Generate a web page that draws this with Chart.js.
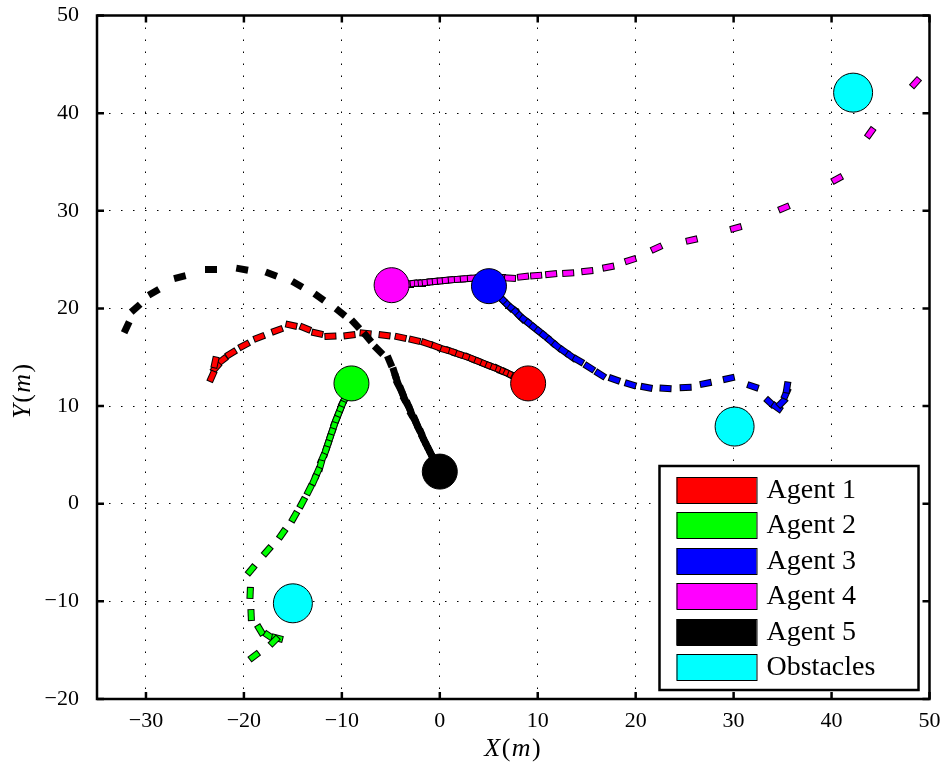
<!DOCTYPE html>
<html>
<head>
<meta charset="utf-8">
<title>Agent trajectories</title>
<script src="https://cdn.jsdelivr.net/npm/chart.js@4.4.1/dist/chart.umd.min.js"></script>
<style>
  html, body { margin: 0; padding: 0; background: #fff; overflow: hidden; }
  /* the layout keeps a fixed gap above and right of the plot; pull the canvas up by it */
  canvas { display: block; margin-top: -5px; }
</style>
</head>
<body>
<canvas id="trajChart" width="950" height="770"></canvas>
<script>
// axis ticks
const xTicks = [-30, -20, -10, 0, 10, 20, 30, 40, 50];
const yTicks = [-20, -10, 0, 10, 20, 30, 40, 50];

// agents and obstacles
const agentNames = ['Agent 1', 'Agent 2', 'Agent 3', 'Agent 4', 'Agent 5'];
const agentColors = ['#ff0000', '#00ff00', '#0000ff', '#ff00ff', '#000000'];
const obstacleColor = '#00ffff';
const agentStart = [[9.02, 12.32], [-9.02, 12.32], [5.02, 22.28], [-4.92, 22.38], [0, 3.29]];
const obstacles = [[42.2, 42.1], [30.1, 7.9], [-15.0, -10.2]];

// sampled positions along each trajectory
const path1 = [[9.02,12.32],[8.71,12.47],[8.40,12.63],[8.09,12.78],[7.79,12.94],[7.48,13.09],[7.17,13.24],
  [6.86,13.40],[6.45,13.55],[6.05,13.76],[5.64,13.91],[5.23,14.07],[4.71,14.27],[4.20,14.48],[3.69,14.68],
  [3.07,14.94],[2.46,15.14],[1.84,15.35],[1.13,15.61],[0.41,15.81],[-0.41,16.12],[-1.33,16.43],[-2.56,16.74],
  [-4.00,17.04],[-5.64,17.25],[-7.58,17.45],[-9.22,17.25],[-11.17,17.15],[-12.50,17.45],[-13.73,17.97],
  [-15.16,18.28],[-16.60,17.76],[-18.44,17.04],[-19.98,16.22],[-21.31,15.40],[-22.23,14.68],[-22.85,13.96],
  [-23.26,13.04],[-22.95,14.48]];
const path2 = [[-9.02,12.32],[-9.22,11.81],[-9.43,11.29],[-9.63,10.88],[-9.84,10.47],[-10.04,9.96],[-10.25,9.45],
  [-10.45,8.93],[-10.66,8.42],[-10.86,7.80],[-11.07,7.19],[-11.27,6.57],[-11.48,5.95],[-11.68,5.34],[-11.99,4.62],
  [-12.19,3.90],[-12.50,3.18],[-12.81,2.46],[-13.32,1.44],[-14.04,0.10],[-14.86,-1.33],[-16.09,-3.08],
  [-17.62,-4.83],[-19.26,-6.78],[-19.36,-9.14],[-19.26,-11.40],[-18.34,-12.94],[-17.42,-13.55],[-16.60,-13.76],
  [-16.91,-14.07],[-18.95,-15.61]];
const path3 = [[5.02,22.28],[5.43,21.87],[5.84,21.46],[6.25,21.05],[6.66,20.64],[7.07,20.23],[7.48,19.92],
  [7.89,19.51],[8.30,19.10],[8.71,18.79],[9.22,18.38],[9.73,17.97],[10.25,17.56],[10.76,17.15],[11.37,16.63],
  [11.99,16.12],[12.70,15.61],[13.42,15.09],[14.14,14.68],[15.27,13.96],[16.39,13.24],[17.83,12.73],
  [19.47,12.22],[21.11,11.91],[23.05,11.81],[25.10,11.91],[27.15,12.32],[29.51,12.83],[31.97,12.01],
  [33.71,10.37],[34.43,9.86],[34.94,10.37],[35.35,11.29],[35.45,11.91]];
const path4 = [[-4.92,22.38],[-4.51,22.38],[-4.10,22.43],[-3.69,22.48],[-3.28,22.48],[-2.87,22.54],[-2.46,22.59],
  [-2.05,22.59],[-1.64,22.64],[-1.23,22.69],[-0.72,22.74],[-0.20,22.79],[0.31,22.84],[0.82,22.90],[1.43,22.95],
  [2.05,23.00],[2.66,23.05],[3.38,23.10],[4.20,23.15],[5.12,23.15],[6.15,23.15],[7.17,23.10],[8.50,23.25],
  [9.84,23.36],[11.37,23.51],[13.11,23.61],[15.06,23.82],[17.21,24.23],[19.47,24.95],[22.13,26.18],
  [25.72,27.00],[30.23,28.23],[35.14,30.29],[40.57,33.26],[43.95,37.99],[48.57,43.12]];
const path5 = [[0,3.29],[-0.20,3.70],[-0.41,4.11],[-0.61,4.52],[-0.82,4.93],[-1.02,5.34],[-1.23,5.75],
  [-1.43,6.16],[-1.64,6.57],[-1.84,7.08],[-2.05,7.49],[-2.25,7.91],[-2.46,8.42],[-2.77,8.93],[-2.97,9.45],
  [-3.18,9.96],[-3.48,10.47],[-3.69,10.99],[-3.89,11.50],[-4.20,12.11],[-4.41,12.73],[-4.61,13.35],
  [-5.12,14.58],[-6.25,15.71],[-7.38,17.04],[-8.61,18.38],[-10.14,19.61],[-12.30,21.15],[-14.55,22.48],
  [-17.21,23.51],[-20.18,24.02],[-23.36,24.02],[-26.54,23.20],[-29.20,21.66],[-31.05,20.02],[-31.97,18.07]];
const paths = [path1, path2, path3, path4, path5];

const serif = '"Liberation Serif", "Times New Roman", serif';

// small outlined rectangle used as the marker for each sample
function dashImage(color) {
  const c = document.createElement('canvas');
  c.width = 12;
  c.height = 7;
  const g = c.getContext('2d');
  g.fillStyle = '#000';
  g.fillRect(0, 0, 12, 7);
  g.fillStyle = color;
  g.fillRect(1, 1, 10, 5);
  return c;
}

// heading of each sample (degrees, canvas orientation)
function headings(path) {
  return path.map((p, i) => {
    const a = i === 0 ? p : path[i - 1];
    const b = i === 0 ? path[1] : p;
    return Math.atan2(-(b[1] - a[1]), b[0] - a[0]) * 180 / Math.PI;
  });
}

const toXY = arr => arr.map(p => ({ x: p[0], y: p[1] }));

const datasets = [];
// circles go first so they are drawn on top
datasets.push({
  label: 'Start',
  data: toXY(agentStart),
  pointStyle: 'circle',
  pointRadius: 17.5,
  pointBackgroundColor: agentColors,
  pointBorderColor: '#000',
  pointBorderWidth: 1
});
datasets.push({
  label: 'Obstacles',
  data: toXY(obstacles),
  pointStyle: 'circle',
  pointRadius: 19.5,
  pointBackgroundColor: obstacleColor,
  pointBorderColor: '#000',
  pointBorderWidth: 1
});
// trajectories, agent 5 on top of agent 1
for (let i = paths.length - 1; i >= 0; i--) {
  datasets.push({
    label: agentNames[i],
    data: toXY(paths[i]),
    pointStyle: dashImage(agentColors[i]),
    pointRadius: 6,
    pointRotation: headings(paths[i])
  });
}

const tickLabel = v => (v < 0 ? '\u2212' + Math.abs(v) : String(v));

// box around the plot with inward ticks, plus axis titles
const framePlugin = {
  id: 'frame',
  afterDatasetsDraw(chart) {
    const { ctx, chartArea: a, scales } = chart;
    ctx.save();
    ctx.strokeStyle = '#000';
    ctx.lineWidth = 2.5;
    ctx.beginPath();
    xTicks.forEach(v => {
      const px = scales.x.getPixelForValue(v);
      ctx.moveTo(px, a.bottom); ctx.lineTo(px, a.bottom - 7);
      ctx.moveTo(px, a.top); ctx.lineTo(px, a.top + 7);
    });
    yTicks.forEach(v => {
      const py = scales.y.getPixelForValue(v);
      ctx.moveTo(a.left, py); ctx.lineTo(a.left + 7, py);
      ctx.moveTo(a.right, py); ctx.lineTo(a.right - 7, py);
    });
    ctx.stroke();
    ctx.strokeRect(a.left, a.top, a.right - a.left, a.bottom - a.top);

    // axis titles: italic symbols, upright brackets
    const parts = [['X', 'italic'], ['(', 'normal'], ['m', 'italic'], [')', 'normal']];
    const drawTitle = (letter, cx, cy, rot) => {
      ctx.save();
      ctx.translate(cx, cy);
      ctx.rotate(rot);
      ctx.fillStyle = '#000';
      ctx.textBaseline = 'alphabetic';
      const pieces = parts.map((p, i) => [i === 0 ? letter : p[0], p[1]]);
      let w = 0;
      pieces.forEach(p => { ctx.font = p[1] + ' 26px ' + serif; w += ctx.measureText(p[0]).width + 1.5; });
      let x = -w / 2;
      pieces.forEach(p => {
        ctx.font = p[1] + ' 26px ' + serif;
        ctx.fillText(p[0], x, 8);
        x += ctx.measureText(p[0]).width + 1.5;
      });
      ctx.restore();
    };
    drawTitle('X', (a.left + a.right) / 2, a.bottom + 49, 0);
    drawTitle('Y', 22, a.top + 375, -Math.PI / 2);
    ctx.restore();
  }
};

// legend box in the lower right corner of the plot
const legendPlugin = {
  id: 'boxLegend',
  afterDraw(chart) {
    const { ctx, chartArea: a } = chart;
    const names = agentNames.concat(['Obstacles']);
    const colors = agentColors.concat([obstacleColor]);
    const bx = a.right - 270, by = a.bottom - 233;
    ctx.save();
    ctx.fillStyle = '#fff';
    ctx.fillRect(bx, by, 259, 224);
    ctx.strokeStyle = '#000';
    ctx.lineWidth = 2.5;
    ctx.strokeRect(bx, by, 259, 224);
    names.forEach((name, i) => {
      const y = Math.round(by + 11 + i * 35.4);
      ctx.fillStyle = colors[i];
      ctx.fillRect(bx + 17, y, 80, 26);
      ctx.lineWidth = 1;
      ctx.strokeRect(bx + 17.5, y + 0.5, 80, 26);
      ctx.fillStyle = '#000';
      ctx.font = '28px ' + serif;
      ctx.textBaseline = 'middle';
      ctx.fillText(name, bx + 107, y + 14);
    });
    ctx.restore();
  }
};

new Chart(document.getElementById('trajChart'), {
  type: 'scatter',
  data: { datasets },
  options: {
    responsive: false,
    animation: false,
    events: [],
    layout: { padding: { top: 10, right: 8, left: 0, bottom: 0 } },
    plugins: { legend: { display: false }, tooltip: { enabled: false } },
    scales: {
      x: {
        type: 'linear',
        min: -35,
        max: 50,
        afterBuildTicks: s => { s.ticks = xTicks.map(v => ({ value: v })); },
        afterFit: s => { s.height = 66; s.paddingLeft = 0; s.paddingRight = 0; },
        ticks: { callback: tickLabel, color: '#000', padding: 9, maxRotation: 0, autoSkip: false,
                 font: { family: serif, size: 22 } },
        grid: { color: '#000', lineWidth: 1, drawTicks: false },
        border: { display: false, dash: [1.5, 10.5] }
      },
      y: {
        type: 'linear',
        min: -20,
        max: 50,
        afterBuildTicks: s => { s.ticks = yTicks.map(v => ({ value: v })); },
        afterFit: s => { s.width = 97; s.paddingTop = 0; s.paddingBottom = 0; },
        ticks: { callback: tickLabel, color: '#000', padding: 18, autoSkip: false,
                 font: { family: serif, size: 22 } },
        grid: { color: '#000', lineWidth: 1, drawTicks: false },
        border: { display: false, dash: [1.5, 10.5] }
      }
    }
  },
  plugins: [framePlugin, legendPlugin]
});
</script>
</body>
</html>
